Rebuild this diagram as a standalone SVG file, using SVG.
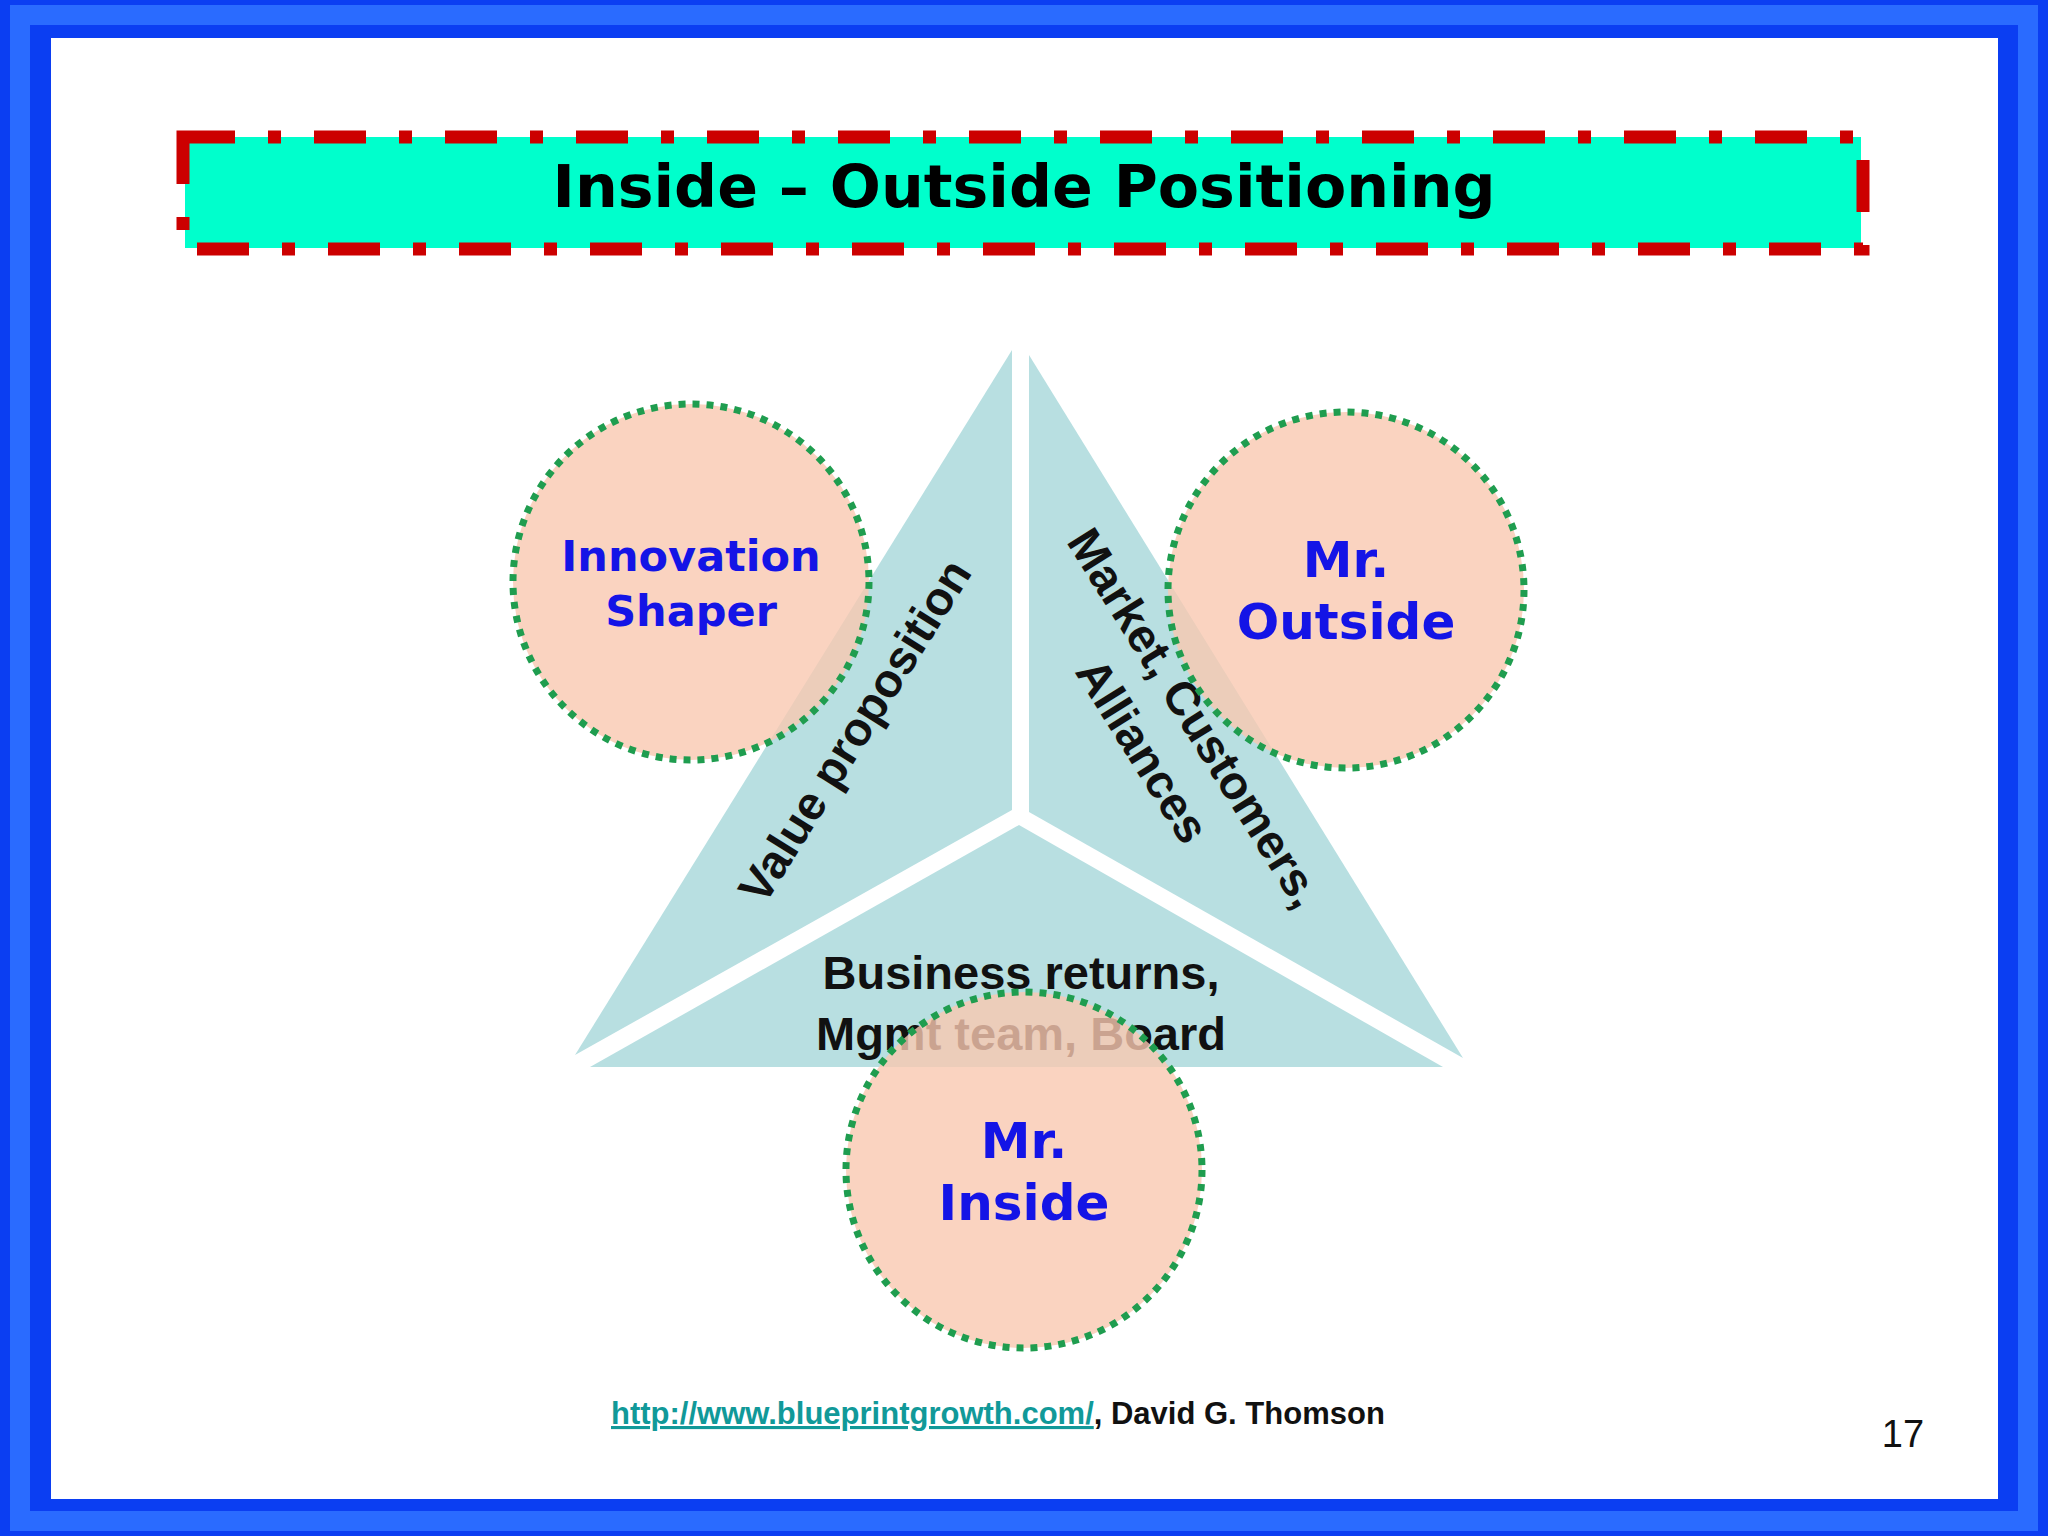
<svg xmlns="http://www.w3.org/2000/svg" width="2048" height="1536" viewBox="0 0 2048 1536">
<defs>
<style>
.tri{fill:#b8dfe1}
.circ{fill:#f9c8b0;fill-opacity:0.8;stroke:#1f9d4f;stroke-width:7;stroke-dasharray:7 7}
.blue{font-family:"DejaVu Sans",Verdana,sans-serif;font-weight:bold;fill:#1414e6;text-anchor:middle}
.blk{font-family:"Liberation Sans",Arial,sans-serif;font-weight:bold;fill:#111;text-anchor:middle}
</style>
</defs>
<rect x="0" y="0" width="2048" height="1536" fill="#0b3ef2"/>
<rect x="20" y="15" width="2008" height="1506" fill="none" stroke="#2a6bff" stroke-width="20"/>
<rect x="51" y="38" width="1947" height="1461" fill="#ffffff"/>
<g id="title">
<rect x="185" y="137" width="1676" height="111" fill="#00ffcc"/>
<rect x="183" y="137" width="1680" height="112" fill="none" stroke="#cc0000" stroke-width="13" stroke-dasharray="52 33 13 33"/>
<text x="1024" y="207" font-family="'DejaVu Sans',Verdana,sans-serif" font-weight="bold" font-size="58" text-anchor="middle" textLength="943" lengthAdjust="spacingAndGlyphs" fill="#000">Inside – Outside Positioning</text>
</g>
<g id="triangle">
<polygon class="tri" points="1012,350 1012,810 575,1055"/>
<polygon class="tri" points="1029,355 1029,812 1463,1058"/>
<polygon class="tri" points="590,1067 1019,825 1443,1067"/>
</g>
<g id="labels">
<text class="blk" font-size="47" transform="translate(855,731) rotate(-58)" y="16">Value proposition</text>
<g transform="translate(1195,718) rotate(58)">
<text class="blk" font-size="47" y="16">Market, Customers,</text>
<text class="blk" font-size="47" y="78">Alliances</text>
</g>
<text class="blk" font-size="47" x="1021" y="989">Business returns,</text>
<text class="blk" font-size="47" x="1021" y="1050">Mgmt team, Board</text>
</g>
<g id="innovation">
<circle class="circ" cx="691" cy="582" r="178"/>
<text class="blue" font-size="43" x="691" y="571">Innovation</text>
<text class="blue" font-size="43" x="691" y="626">Shaper</text>
</g>
<g id="outside">
<circle class="circ" cx="1346" cy="590" r="178"/>
<text class="blue" font-size="50" x="1346" y="577">Mr.</text>
<text class="blue" font-size="50" x="1346" y="639">Outside</text>
</g>
<g id="inside">
<circle class="circ" cx="1024" cy="1170" r="178"/>
<text class="blue" font-size="50" x="1024" y="1158">Mr.</text>
<text class="blue" font-size="50" x="1024" y="1220">Inside</text>
</g>
<g id="connectors"></g>
<g id="footer">
<text x="611" y="1424" font-family="'Liberation Sans',Arial,sans-serif" font-weight="bold" font-size="31"><tspan fill="#119999" text-decoration="underline">http://www.blueprintgrowth.com/</tspan><tspan fill="#111">, David G. Thomson</tspan></text>
<text x="1903" y="1447" font-family="'Liberation Sans',Arial,sans-serif" font-size="38" text-anchor="middle" fill="#111">17</text>
</g>
</svg>
